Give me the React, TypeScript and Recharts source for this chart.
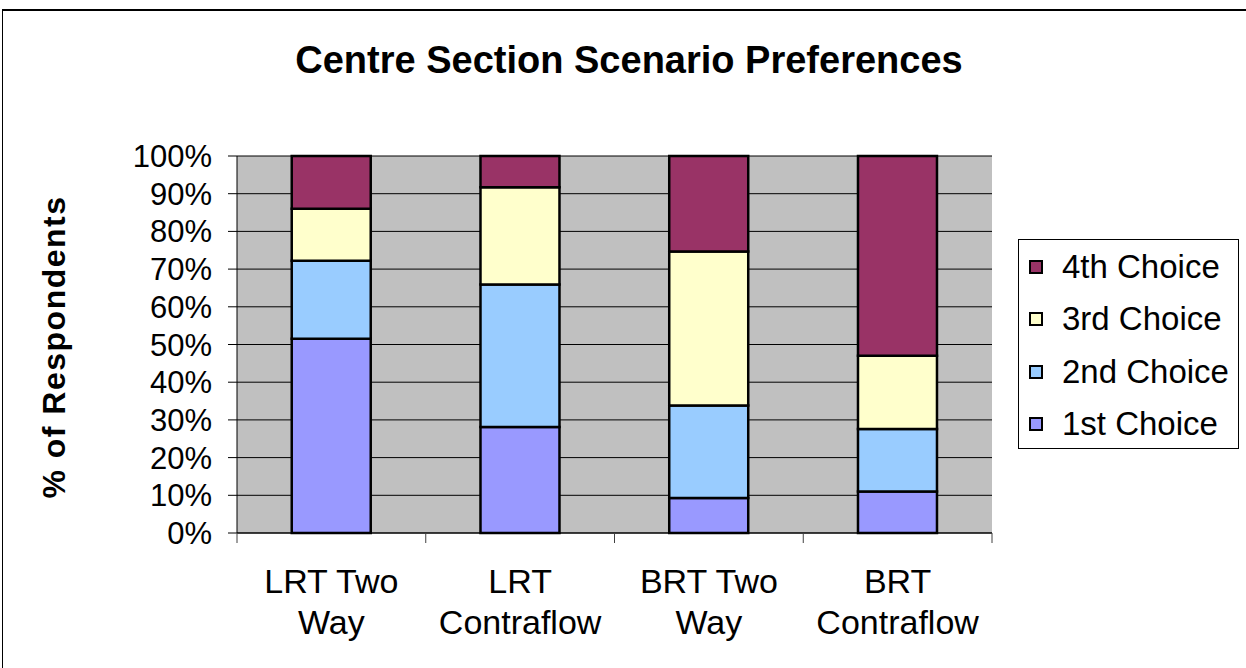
import { Bar, BarChart, CartesianGrid, XAxis, YAxis } from 'recharts';

const categories = ['LRT Two Way', 'LRT Contraflow', 'BRT Two Way', 'BRT Contraflow'];
const categoryLines = [
  ['LRT Two', 'Way'],
  ['LRT', 'Contraflow'],
  ['BRT Two', 'Way'],
  ['BRT', 'Contraflow'],
];
const firstChoice = [51.5, 28.1, 9.3, 11.0];
const secondChoice = [20.7, 37.8, 24.5, 16.6];
const thirdChoice = [13.8, 25.8, 40.9, 19.4];
const fourthChoice = [14.0, 8.3, 25.3, 53.0];
const yTicks = [0, 10, 20, 30, 40, 50, 60, 70, 80, 90, 100];

const series = [
  { key: 'first', name: '1st Choice', values: firstChoice, color: '#9999FF' },
  { key: 'second', name: '2nd Choice', values: secondChoice, color: '#99CCFF' },
  { key: 'third', name: '3rd Choice', values: thirdChoice, color: '#FFFFCC' },
  { key: 'fourth', name: '4th Choice', values: fourthChoice, color: '#993366' },
];

const data = categories.map((name, i) => {
  const row: Record<string, string | number> = { name, idx: i };
  series.forEach((s) => (row[s.key] = s.values[i]));
  return row;
});

const FONT = '"Liberation Sans", Arial, Helvetica, sans-serif';
const W = 1246;
const H = 668;
const PLOT_LEFT = 237;
const PLOT_RIGHT = 992;
const PLOT_TOP = 156;
const PLOT_BOTTOM = 533;
const BAND = (PLOT_RIGHT - PLOT_LEFT) / categories.length;

function CategoryTick(props: any) {
  const { x, y, payload, index, visibleTicksCount } = props;
  const lines = categoryLines[payload.index ?? index] ?? [String(payload.value)];
  const last = index === visibleTicksCount - 1;
  return (
    <g>
      <line x1={x - BAND / 2} x2={x - BAND / 2} y1={y} y2={y + 10} stroke='#404040' />
      {last && <line x1={x + BAND / 2} x2={x + BAND / 2} y1={y} y2={y + 10} stroke='#404040' />}
      {lines.map((l, i) => (
        <text key={i} x={x} y={y + 60 + i * 41} textAnchor='middle' fontFamily={FONT} fontSize={34} fill='#000'>
          {l}
        </text>
      ))}
    </g>
  );
}

function YLabel() {
  return (
    <text
      x={65}
      y={347}
      transform='rotate(-90 65 347)'
      textAnchor='middle'
      fontFamily={FONT}
      fontSize={32}
      fontWeight='bold'
      letterSpacing={1.5}
      fill='#000'
    >
      % of Respondents
    </text>
  );
}

export default function App() {
  const legendItems = [...series].reverse();
  return (
    <div style={{ position: 'fixed', left: 0, top: 0, width: W, height: H, background: '#fff', overflow: 'hidden' }}>
      <div
        style={{
          position: 'absolute',
          left: 2,
          top: 9,
          width: W + 20,
          height: H + 20,
          borderLeft: '1px solid #000',
          borderTop: '2px solid #000',
        }}
      />
      <div
        style={{
          position: 'absolute',
          left: 0,
          top: 41,
          width: 1258,
          textAlign: 'center',
          fontFamily: FONT,
          fontWeight: 'bold',
          fontSize: 38,
          lineHeight: '38px',
          color: '#000',
        }}
      >
        Centre Section Scenario Preferences
      </div>
      <div style={{ position: 'absolute', left: 0, top: 0 }}>
        <BarChart
          width={W}
          height={H}
          data={data}
          barCategoryGap='29%'
          margin={{ top: PLOT_TOP, right: W - PLOT_RIGHT, bottom: 35, left: PLOT_LEFT - 100 }}
        >
          <CartesianGrid fill='#C0C0C0' fillOpacity={1} stroke='#000' vertical={false} />
          <XAxis
            dataKey='name'
            height={H - PLOT_BOTTOM - 35}
            axisLine={{ stroke: '#000' }}
            tickLine={false}
            tickSize={0}
            tickMargin={0}
            interval={0}
            tick={<CategoryTick />}
          />
          <YAxis
            width={100}
            domain={[0, 100]}
            ticks={yTicks}
            interval={0}
            tickFormatter={(v) => `${v}%`}
            axisLine={{ stroke: '#000' }}
            tickLine={{ stroke: '#000' }}
            tickSize={9}
            tickMargin={16}
            tick={{ fill: '#000', fontSize: 31, fontFamily: FONT }}
            label={<YLabel />}
          />
          <YAxis
            yAxisId='edge'
            orientation='right'
            width={0}
            domain={[0, 100]}
            tick={false}
            tickLine={false}
            axisLine={{ stroke: '#808080', strokeWidth: 2 }}
          />
          {series.map((s) => (
            <Bar
              key={s.key}
              dataKey={s.key}
              name={s.name}
              stackId='a'
              fill={s.color}
              stroke='#000'
              strokeWidth={2.5}
              isAnimationActive={false}
            />
          ))}
        </BarChart>
      </div>
      <div
        style={{
          position: 'absolute',
          left: 1018,
          top: 239,
          width: 219,
          height: 208,
          border: '1px solid #000',
          background: '#fff',
          fontFamily: FONT,
          fontSize: 33,
          color: '#000',
        }}
      >
        {legendItems.map((s, i) => (
          <div
            key={s.key}
            style={{
              position: 'absolute',
              left: 10,
              top: 4 + i * 52.3,
              height: 46,
              display: 'flex',
              alignItems: 'center',
              whiteSpace: 'nowrap',
            }}
          >
            <span
              style={{
                display: 'inline-block',
                width: 10,
                height: 10,
                background: s.color,
                border: '2px solid #000',
                marginRight: 19,
              }}
            />
            <span>{s.name}</span>
          </div>
        ))}
      </div>
    </div>
  );
}
